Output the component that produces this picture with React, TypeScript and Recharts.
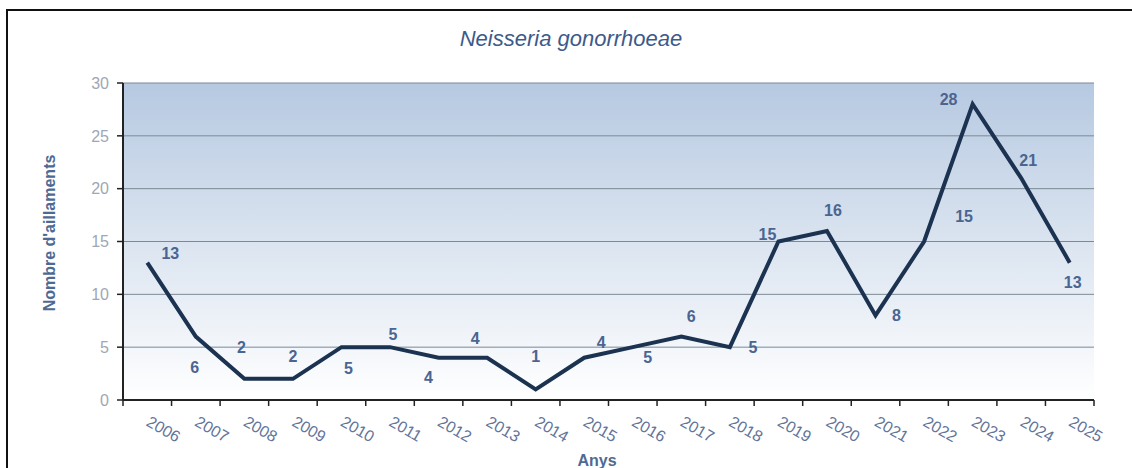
import React from 'react';
import { LineChart, Line, XAxis, YAxis, CartesianGrid, LabelList } from 'recharts';

const YEARS = ['2006','2007','2008','2009','2010','2011','2012','2013','2014','2015','2016','2017','2018','2019','2020','2021','2022','2023','2024','2025'];
const ISOLATES = [13, 6, 2, 2, 5, 5, 4, 4, 1, 4, 5, 6, 5, 15, 16, 8, 15, 28, 21, 13];
const Y_TICKS = [0, 5, 10, 15, 20, 25, 30];
const TITLE = 'Neisseria gonorrhoeae';
const Y_LABEL = "Nombre d'aillaments";
const X_LABEL = 'Anys';

// label placement offsets (dx, dy) per point, styling only
const LABEL_OFFSETS: [number, number][] = [
  [23, -9], [-1, 31], [-3, -31], [0, -22], [7, 21], [3, -13], [-10, 20], [-12, -19], [0, -33], [17, -15],
  [15, 10], [10, -20], [23, 0], [-11, -7], [6, -20], [21, 0], [40, -25], [-24, -5], [7, -18], [3, 20],
];

const data = YEARS.map((y, i) => ({ year: y, value: ISOLATES[i] }));

const W = 1132;
const H = 468;
const X_AXIS_H = 68;
const M = { top: 83, right: 38, bottom: 0, left: 0 };
const Y_AXIS_W = 123;
const PLOT_W = W - M.left - M.right - Y_AXIS_W;
const BAND = PLOT_W / YEARS.length;
const FONT = "'Liberation Sans', Arial, sans-serif";

const XTick = (props: any) => {
  const { x, y, payload, index } = props;
  const isLast = index === YEARS.length - 1;
  return (
    <g>
      <line x1={x - BAND / 2} y1={y} x2={x - BAND / 2} y2={y + 6} stroke="#222" strokeWidth={1.5} />
      {isLast && <line x1={x + BAND / 2} y1={y} x2={x + BAND / 2} y2={y + 6} stroke="#222" strokeWidth={1.5} />}
      <text
        x={x - 2}
        y={y + 25}
        transform={`rotate(30, ${x - 2}, ${y + 25})`}
        textAnchor="start"
        fill="#62749a"
        fontSize={16}
        fontFamily={FONT}
      >
        {payload.value}
      </text>
    </g>
  );
};

const renderLabel = (props: any) => {
  const { x, y, value, index } = props;
  const [dx, dy] = LABEL_OFFSETS[index] || [0, -15];
  return (
    <text
      x={x + dx}
      y={y + dy}
      textAnchor="middle"
      dominantBaseline="central"
      fill="#4a6591"
      fontSize={16}
      fontWeight="bold"
      fontFamily={FONT}
    >
      {value}
    </text>
  );
};

export default function App() {
  return (
    <div style={{ position: 'absolute', left: 0, top: 0, width: W, height: H, overflow: 'hidden', background: '#fff' }}>
      <div style={{ position: 'absolute', left: 6, top: 9, width: W + 20, height: H + 20, border: '2px solid #111', boxSizing: 'border-box' }} />
      <div style={{ position: 'absolute', left: 0, top: 0 }}>
        <LineChart width={W} height={H} data={data} margin={M}>
          <defs>
            <linearGradient id="bgGrad" x1="0" y1="0" x2="0" y2="1">
              <stop offset="0%" stopColor="#b6c9e1" />
              <stop offset="100%" stopColor="#ffffff" />
            </linearGradient>
          </defs>
          <CartesianGrid vertical={false} horizontal={true} stroke="#7d8894" strokeWidth={1} fill="url(#bgGrad)" fillOpacity={1} />
          <XAxis
            dataKey="year"
            type="category"
            axisLine={{ stroke: '#222', strokeWidth: 2 }}
            tickLine={false}
            tickSize={0}
            tickMargin={0}
            interval={0}
            height={X_AXIS_H}
            padding={{ left: BAND / 2, right: BAND / 2 }}
            tick={<XTick />}
          />
          <YAxis
            domain={[0, 30]}
            ticks={Y_TICKS}
            width={Y_AXIS_W}
            axisLine={{ stroke: '#222', strokeWidth: 2 }}
            tickLine={{ stroke: '#222', strokeWidth: 1.5 }}
            tickSize={6}
            tickMargin={8}
            tick={{ fill: '#9ea7b5', fontSize: 16, fontFamily: FONT }}
          />
          <YAxis
            yAxisId="right"
            orientation="right"
            width={0}
            domain={[0, 30]}
            tick={false}
            tickLine={false}
            axisLine={{ stroke: '#8c8c8c', strokeWidth: 2 }}
          />
          <Line
            type="linear"
            dataKey="value"
            stroke="#1b3250"
            strokeWidth={4}
            dot={false}
            activeDot={false}
            isAnimationActive={false}
          >
            <LabelList dataKey="value" content={renderLabel} />
          </Line>
        </LineChart>
      </div>
      <div style={{ position: 'absolute', left: 0, width: W, top: 26, textAlign: 'center', fontFamily: FONT, fontStyle: 'italic', fontSize: 22, color: '#3d5a8a', paddingLeft: 10, boxSizing: 'border-box' }}>
        {TITLE}
      </div>
      <div style={{ position: 'absolute', left: 50, top: 233, width: 0, height: 0 }}>
        <div style={{ position: 'absolute', transform: 'translate(-50%, -50%) rotate(-90deg)', whiteSpace: 'nowrap', fontFamily: FONT, fontWeight: 'bold', fontSize: 16, color: '#4d6a94' }}>
          {Y_LABEL}
        </div>
      </div>
      <div style={{ position: 'absolute', left: 597, top: 461, width: 0, height: 0 }}>
        <div style={{ position: 'absolute', transform: 'translate(-50%, -50%)', whiteSpace: 'nowrap', fontFamily: FONT, fontWeight: 'bold', fontSize: 16, color: '#4d6a94' }}>
          {X_LABEL}
        </div>
      </div>
    </div>
  );
}
